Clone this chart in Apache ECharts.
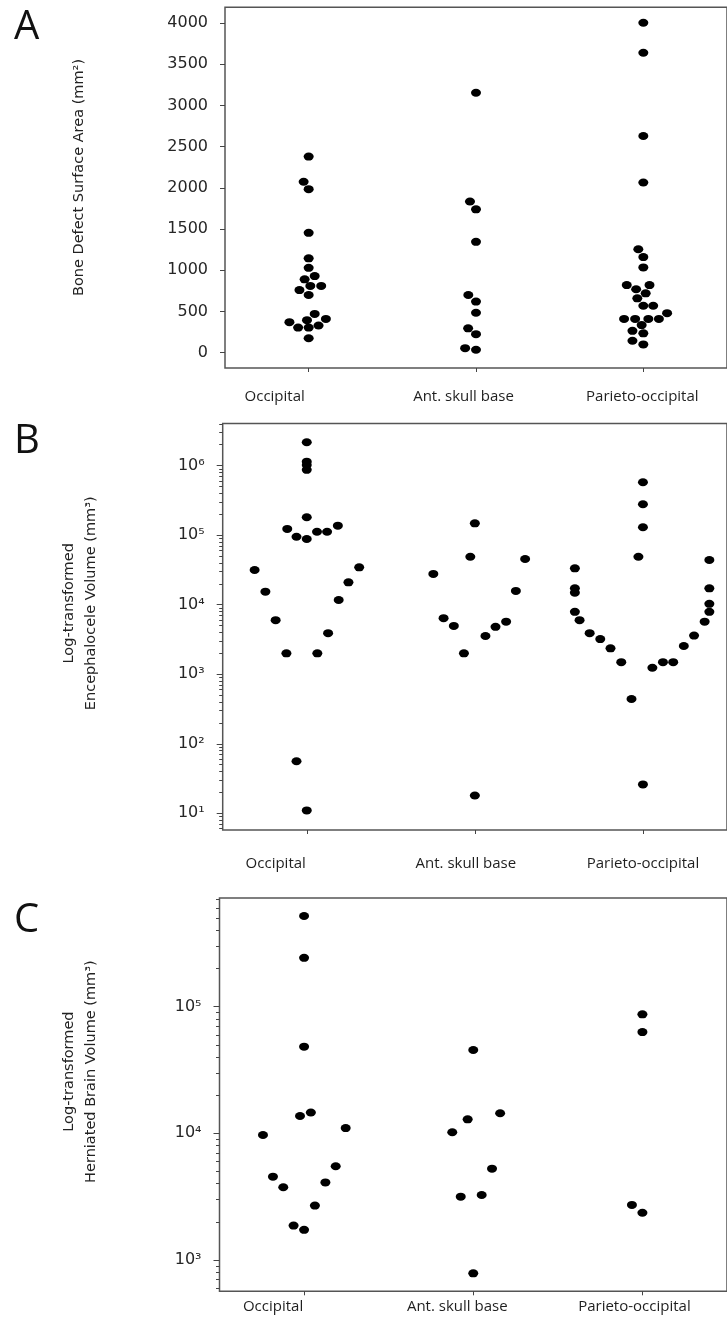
<!DOCTYPE html>
<html><head><meta charset="utf-8">
<script src="https://cdn.jsdelivr.net/npm/echarts@6/dist/echarts.min.js"></script>
<style>html,body{margin:0;padding:0;background:#fff;}#c{width:727px;height:1330px;}</style>
</head><body><div id="c"></div>
<script>
// ---------- DATA ----------
const categories = ['Occipital', 'Ant. skull base', 'Parieto-occipital'];

// Panel A: Bone defect surface area (mm²); offsets = swarm position relative to category (category units)
const occA_val = [2380, 2075, 1985, 1455, 1145, 1030, 930, 890, 810, 810, 760, 700, 470, 370, 395, 410, 305, 305, 330, 175];
const occA_off = [0, -0.03, 0, 0, 0, 0, 0.036, -0.024, 0.01, 0.075, -0.055, 0, 0.036, -0.115, -0.01, 0.103, -0.063, 0, 0.059, 0];
const antA_val = [3155, 1835, 1740, 1345, 700, 620, 485, 295, 225, 55, 35];
const antA_off = [0, -0.036, 0, 0, -0.046, 0, 0, -0.047, 0, -0.065, 0];
const parA_val = [4005, 3640, 2630, 2065, 1255, 1160, 1035, 820, 820, 770, 720, 660, 570, 570, 480, 410, 410, 410, 410, 335, 265, 235, 145, 100];
const parA_off = [0, 0, 0, 0, -0.03, 0, 0, -0.099, 0.037, -0.043, 0.014, -0.036, 0, 0.059, 0.142, -0.115, -0.049, 0.03, 0.093, -0.01, -0.065, 0, -0.065, 0];

// Panel B: Encephalocele volume (mm³), log scale
const occB_val = [2.17e6, 1.14e6, 1.02e6, 8.7e5, 1.81e5, 1.23e5, 9.5e4, 8.8e4, 1.12e5, 1.12e5, 1.37e5, 3.16e4, 1.54e4, 6.0e3, 2.0e3, 56, 11, 2.0e3, 3.9e3, 1.17e4, 2.1e4, 3.45e4];
const occB_off = [0, 0, 0, 0, 0, -0.116, -0.061, 0, 0.061, 0.121, 0.185, -0.31, -0.246, -0.185, -0.121, -0.061, 0, 0.063, 0.127, 0.19, 0.248, 0.312];
const antB_val = [1.48e5, 4.9e4, 2.77e4, 6.4e3, 4.95e3, 2.0e3, 18, 3.55e3, 4.8e3, 5.7e3, 1.58e4, 4.55e4];
const antB_off = [0, -0.027, -0.247, -0.186, -0.125, -0.065, 0, 0.063, 0.123, 0.186, 0.244, 0.299];
const parB_val = [5.77e5, 2.79e5, 1.3e5, 4.9e4, 3.34e4, 1.72e4, 1.49e4, 7.9e3, 6.0e3, 3.9e3, 3.2e3, 2.36e3, 1.49e3, 440, 26, 1.24e3, 1.49e3, 1.49e3, 2.55e3, 3.6e3, 5.7e3, 7.9e3, 1.03e4, 1.72e4, 4.4e4];
const parB_off = [0, 0, 0, -0.027, -0.405, -0.405, -0.405, -0.405, -0.377, -0.317, -0.254, -0.193, -0.129, -0.068, 0, 0.056, 0.119, 0.18, 0.243, 0.304, 0.367, 0.395, 0.395, 0.395, 0.395];

// Panel C: Herniated brain volume (mm³), log scale
const occC_val = [5.2e5, 2.43e5, 4.83e4, 1.37e4, 1.46e4, 9.7e3, 4.55e3, 3.75e3, 1.87e3, 1.73e3, 2.69e3, 4.1e3, 5.5e3, 1.1e4];
const occC_off = [0, 0, 0, -0.024, 0.04, -0.243, -0.184, -0.123, -0.062, 0, 0.064, 0.126, 0.187, 0.246];
const antC_val = [4.55e4, 1.02e4, 1.29e4, 1.44e4, 5.26e3, 3.16e3, 3.26e3, 785];
const antC_off = [0, -0.124, -0.033, 0.159, 0.111, -0.074, 0.05, 0];
const parC_val = [8.7e4, 6.3e4, 2.72e3, 2.36e3];
const parC_off = [0, 0, -0.062, 0];

// Tick values / labels
const yTicksA = [0, 500, 1000, 1500, 2000, 2500, 3000, 3500, 4000];
const yTicksLog = [10, 100, 1000, 10000, 100000, 1000000];
const supDigits = {1: '¹', 2: '²', 3: '³', 4: '⁴', 5: '⁵', 6: '⁶'};
const minorLog = [];
for (let n = 0; n <= 6; n++) for (let k = 2; k <= 9; k++) minorLog.push(k * Math.pow(10, n));

// ---------- STYLE / LAYOUT ----------
const FRAME = '#555', TICK = '#444', LAB = '#262626';
const grids = [
  {left: 225, top: 7.3, width: 505.5, height: 360.7},
  {left: 222.7, top: 423.5, width: 505, height: 406.5},
  {left: 219.5, top: 898, width: 520.5, height: 393.3}
];
const yRanges = [[-186, 4192], [5.75, 4.04e6], [566, 7.21e5]];
const labelShift = [[-34, -12.5, -1], [-31, -9, 0], [-31, -16, -8]];
const labelMargin = [21, 26, 8];

const option = {animation: false, backgroundColor: '#fff', grid: [], xAxis: [], yAxis: [], series: [], graphic: []};
const noLine = {show: false, onZero: false};

grids.forEach((g, p) => {
  option.grid.push(Object.assign({show: true, borderColor: FRAME, borderWidth: 1.5, backgroundColor: 'transparent'}, g));
  const rich = {};
  labelShift[p].forEach((s, i) => {
    rich['s' + i] = {fontFamily: 'Open Sans', fontSize: 15, color: '#1f1f1f',
      padding: s < 0 ? [0, -2 * s, 0, 0] : [0, 0, 0, 2 * s]};
  });
  option.xAxis.push({
    gridIndex: p, type: 'category', data: categories, position: 'bottom', boundaryGap: true,
    axisLine: noLine, splitLine: {show: false},
    axisTick: {show: true, alignWithLabel: true, length: 4, lineStyle: {color: TICK}},
    axisLabel: {interval: 0, margin: labelMargin[p], fontFamily: 'Open Sans', fontSize: 15, color: '#1f1f1f',
      formatter: (v, i) => '{s' + i + '|' + v + '}', rich: rich}
  });
  option.xAxis.push({gridIndex: p, type: 'value', min: -0.5, max: 2.5, show: false, position: 'bottom', axisLine: noLine});
  const [ymin, ymax] = yRanges[p];
  if (p === 0) {
    option.yAxis.push({
      gridIndex: p, type: 'value', min: ymin, max: ymax, position: 'left',
      axisLine: noLine, splitLine: {show: false},
      axisTick: {show: true, length: 5, customValues: yTicksA, lineStyle: {color: TICK}},
      axisLabel: {customValues: yTicksA, margin: 17, fontFamily: 'DejaVu Sans', fontSize: 16, color: LAB,
        formatter: v => String(v)}
    });
  } else {
    const majors = yTicksLog.filter(v => v >= ymin && v <= ymax);
    const minors = minorLog.filter(v => v >= ymin && v <= ymax);
    option.yAxis.push({
      gridIndex: p, type: 'log', logBase: 10, min: ymin, max: ymax, position: 'left',
      axisLine: noLine, splitLine: {show: false},
      axisTick: {show: true, length: 6, customValues: majors, lineStyle: {color: TICK}},
      axisLabel: {customValues: majors, margin: 18, fontFamily: 'DejaVu Sans', fontSize: 16, color: LAB,
        formatter: v => '10' + supDigits[Math.round(Math.log10(v))]}
    });
    option.yAxis.push({
      gridIndex: p, type: 'log', logBase: 10, min: ymin, max: ymax, position: 'left',
      axisLine: noLine, splitLine: {show: false},
      axisTick: {show: true, length: 3.5, customValues: minors, lineStyle: {color: TICK}},
      axisLabel: {show: false}
    });
  }
});

const yIndexOf = [0, 1, 3];
const panels = [
  [[occA_val, occA_off], [antA_val, antA_off], [parA_val, parA_off]],
  [[occB_val, occB_off], [antB_val, antB_off], [parB_val, parB_off]],
  [[occC_val, occC_off], [antC_val, antC_off], [parC_val, parC_off]]
];
panels.forEach((cats, p) => {
  cats.forEach(([vals, offs], c) => {
    option.series.push({
      type: 'scatter', name: categories[c], xAxisIndex: 2 * p + 1, yAxisIndex: yIndexOf[p],
      symbol: 'circle', symbolSize: [10, 8], itemStyle: {color: '#000', opacity: 1}, silent: true,
      data: vals.map((v, i) => [c + offs[i], v])
    });
  });
});

const letterStyle = {fontFamily: 'Open Sans', fontSize: 40, fill: '#111', align: 'left', verticalAlign: 'middle'};
const titleStyle = {fontFamily: 'DejaVu Sans', fontSize: 14.5, fill: '#222', align: 'center', verticalAlign: 'middle', lineHeight: 22};
option.graphic = [
  {type: 'text', x: 14, y: 28, style: Object.assign({text: 'A'}, letterStyle)},
  {type: 'text', x: 14, y: 442, style: Object.assign({text: 'B'}, letterStyle)},
  {type: 'text', x: 14, y: 921, style: Object.assign({text: 'C'}, letterStyle)},
  {type: 'text', x: 79, y: 177.5, rotation: Math.PI / 2, style: Object.assign({text: 'Bone Defect Surface Area (mm²)'}, titleStyle)},
  {type: 'text', x: 80.4, y: 603.3, rotation: Math.PI / 2, style: Object.assign({text: 'Log-transformed\nEncephalocele Volume (mm³)'}, titleStyle)},
  {type: 'text', x: 80, y: 1071.6, rotation: Math.PI / 2, style: Object.assign({text: 'Log-transformed\nHerniated Brain Volume (mm³)'}, titleStyle)}
];

const chart = echarts.init(document.getElementById('c'), null, {renderer: 'canvas'});
chart.setOption(option);
</script>
</body></html>
